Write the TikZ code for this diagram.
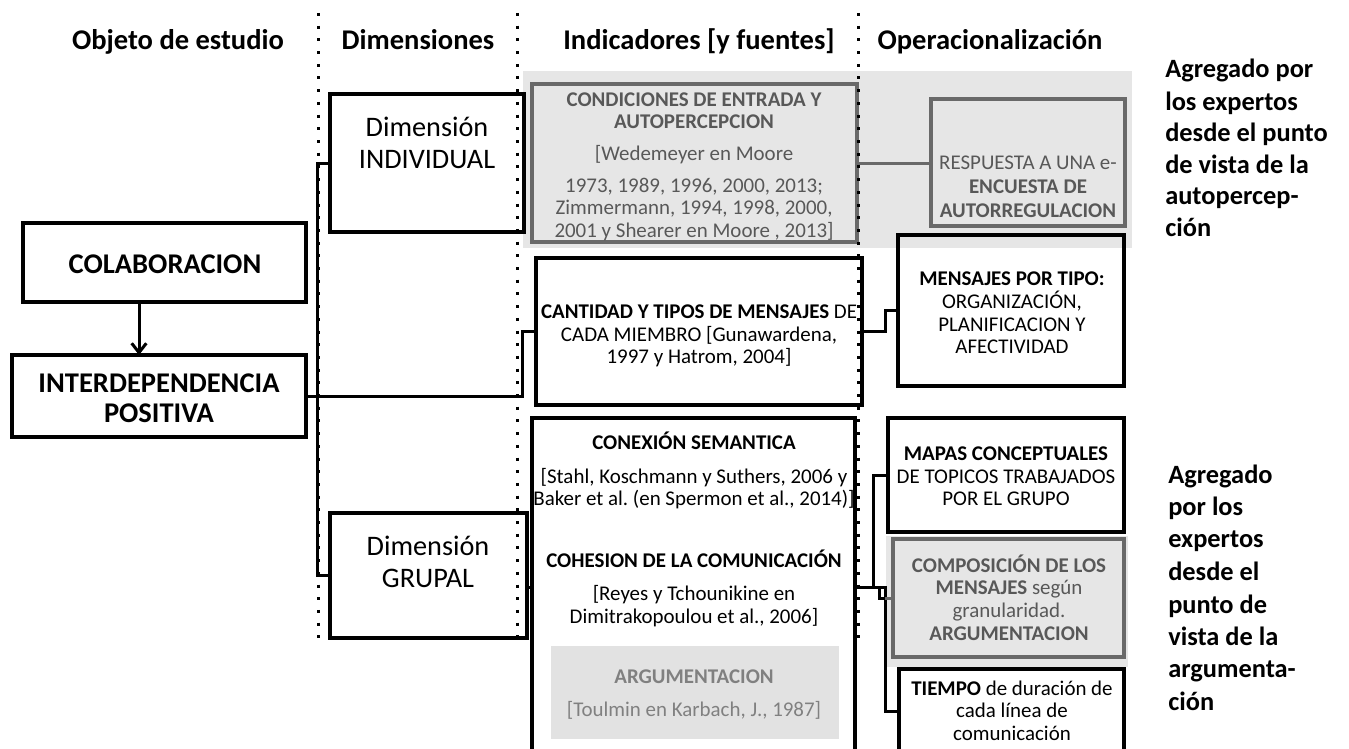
\documentclass[tikz,border=0pt]{standalone}
\usepackage{fontspec}
\setmainfont{Carlito}
\usetikzlibrary{arrows.meta}
\newdimen\pxu \pxu=0.75pt
\definecolor{bggray}{RGB}{230,230,230}
\definecolor{bordgray}{RGB}{105,105,105}
\definecolor{txtgray}{RGB}{88,88,88}
\definecolor{ltxt}{RGB}{128,128,128}
\definecolor{argfill}{RGB}{226,226,226}
\frenchspacing
\tikzset{
  boxst/.style={draw=black, line width=3.4\pxu, inner sep=0pt, outer sep=0pt},
  gboxst/.style={draw=bordgray, line width=3.4\pxu, fill=bggray, inner sep=0pt, outer sep=0pt},
  argst/.style={fill=argfill, inner sep=0pt, outer sep=0pt},
  hdr/.style={font=\fontsize{21.4}{24}\selectfont\bfseries, inner sep=0pt, anchor=base},
  bigt/.style={font=\fontsize{21.4}{24}\selectfont\bfseries, inner sep=0pt, anchor=base},
  dimt/.style={font=\fontsize{21.2}{24}\selectfont, inner sep=0pt, anchor=base},
  sm/.style={font=\fontsize{15.7}{18}\selectfont, inner sep=0pt, anchor=base},
  smb/.style={font=\fontsize{15.7}{18}\selectfont\bfseries, inner sep=0pt, anchor=base},
  agr/.style={font=\fontsize{19.8}{22}\selectfont\bfseries, inner sep=0pt, anchor=base west},
  conn/.style={line width=3\pxu, draw=black},
  dotl/.style={line width=3\pxu, dash pattern=on 3\pxu off 9.7\pxu, draw=black},
}
\newcommand\mkbox[6]{\node[#2, minimum width={(#5-#3)*0.75pt}, minimum height={(#6-#4)*0.75pt}] (#1) at ({(#3+#5)/2},{(#4+#6)/2}) {};}
\newcommand\tline[5]{\node[#4] (#1) at (#2,#3) {#5};}
\begin{document}
\begin{tikzpicture}[x=0.75pt,y=-0.75pt]
\useasboundingbox (0,0) rectangle (1349,749);
\clip (0,0) rectangle (1349,749);
% gray backgrounds
\fill[bggray] (523,71) rectangle (1132,248);
\fill[bggray] (886,536) rectangle (1128,667);
% headers
\tline{h1}{178}{50}{hdr}{Objeto de estudio}
\tline{h2}{418}{50}{hdr}{Dimensiones}
\tline{h3}{699}{50}{hdr}{Indicadores [y fuentes]}
\tline{h4}{990}{50}{hdr}{Operacionalización}
% boxes
\mkbox{colab}{boxst}{23}{223}{306}{302}
\mkbox{inter}{boxst}{12}{355}{306}{437}
\mkbox{dimI}{boxst}{330}{94}{524}{232}
\mkbox{dimG}{boxst}{330}{513}{527}{638}
\mkbox{cond}{gboxst}{532}{84}{857}{242}
\mkbox{resp}{gboxst}{931}{99}{1125}{226}
\mkbox{cant}{boxst}{536}{258}{862}{405}
\mkbox{mens}{boxst}{898}{235}{1124}{386}
\mkbox{big}{boxst}{532}{418}{855}{756}
\mkbox{argbox}{argst}{551}{646}{839}{739}
\mkbox{mapas}{boxst}{888}{418}{1124}{532}
\mkbox{comp}{gboxst}{893}{539}{1124}{657}
\mkbox{tiempo}{boxst}{899}{669}{1124}{753}
% left texts
\tline{tcolab}{165}{273}{bigt}{COLABORACION}
\tline{tint1}{159}{392}{bigt}{INTERDEPENDENCIA}
\tline{tint2}{159}{422}{bigt}{POSITIVA}
\tline{tdi1}{427}{136}{dimt}{Dimensión}
\tline{tdi2}{427}{168}{dimt}{INDIVIDUAL}
\tline{tdg1}{428}{555}{dimt}{Dimensión}
\tline{tdg2}{428}{587}{dimt}{GRUPAL}
% condiciones
\tline{tc1}{694}{107}{smb,text=txtgray}{CONDICIONES DE ENTRADA Y}
\tline{tc2}{694}{128}{smb,text=txtgray}{AUTOPERCEPCION}
\tline{tc3}{694}{160}{sm,text=txtgray}{[Wedemeyer en Moore}
\tline{tc4}{694}{192}{sm,text=txtgray}{1973, 1989, 1996, 2000, 2013;}
\tline{tc5}{694}{214}{sm,text=txtgray}{Zimmermann, 1994, 1998, 2000,}
\tline{tc6}{694}{237}{sm,text=txtgray}{2001 y Shearer en Moore , 2013]}
% respuesta
\tline{tr1}{1028}{169}{sm,text=txtgray}{RESPUESTA A UNA e-}
\tline{tr2}{1028}{193}{smb,text=txtgray}{ENCUESTA DE}
\tline{tr3}{1028}{217}{smb,text=txtgray}{AUTORREGULACION}
% cantidad
\tline{tk1}{699}{318}{sm}{\textbf{CANTIDAD Y TIPOS DE MENSAJES} DE}
\tline{tk2}{699}{341}{sm}{CADA MIEMBRO [Gunawardena,}
\tline{tk3}{699}{363}{sm}{1997 y Hatrom, 2004]}
% mensajes
\tline{tm1}{1012}{285}{smb}{MENSAJES POR TIPO:}
\tline{tm2}{1012}{308}{sm}{ORGANIZACIÓN,}
\tline{tm3}{1012}{331}{sm}{PLANIFICACION Y}
\tline{tm4}{1012}{353}{sm}{AFECTIVIDAD}
% big box
\tline{tb1}{694}{449}{smb}{CONEXIÓN SEMANTICA}
\tline{tb2}{694}{483}{sm}{[Stahl, Koschmann y Suthers, 2006 y}
\tline{tb3}{694}{505}{sm}{Baker et al. (en Spermon et al., 2014)]}
\tline{tb4}{694}{567}{smb}{COHESION DE LA COMUNICACIÓN}
\tline{tb5}{694}{600}{sm}{[Reyes y Tchounikine en}
\tline{tb6}{694}{623}{sm}{Dimitrakopoulou et al., 2006]}
\tline{tb7}{694}{683}{smb,text=ltxt}{ARGUMENTACION}
\tline{tb8}{694}{716}{sm,text=ltxt}{[Toulmin en Karbach, J., 1987]}
% mapas
\tline{tp1}{1006}{460}{smb}{MAPAS CONCEPTUALES}
\tline{tp2}{1006}{483}{sm}{DE TOPICOS TRABAJADOS}
\tline{tp3}{1006}{505}{sm}{POR EL GRUPO}
% composicion
\tline{to1}{1009}{572}{smb,text=txtgray}{COMPOSICIÓN DE LOS}
\tline{to2}{1009}{594}{sm,text=txtgray}{\textbf{MENSAJES} según}
\tline{to3}{1009}{617}{sm,text=txtgray}{granularidad.}
\tline{to4}{1009}{640}{smb,text=txtgray}{ARGUMENTACION}
% tiempo
\tline{tt1}{1012}{695}{sm}{\textbf{TIEMPO} de duración de}
\tline{tt2}{1012}{717}{sm}{cada línea de}
\tline{tt3}{1012}{740}{sm}{comunicación}
% agregado 1
\tline{ta1}{1165}{78}{agr}{Agregado por}
\tline{ta2}{1165}{110}{agr}{los expertos}
\tline{ta3}{1165}{142}{agr}{desde el punto}
\tline{ta4}{1165}{173}{agr}{de vista de la}
\tline{ta5}{1165}{204}{agr}{autopercep-}
\tline{ta6}{1165}{236}{agr}{ción}
% agregado 2
\tline{tg1}{1168}{483}{agr}{Agregado}
\tline{tg2}{1168}{515}{agr}{por los}
\tline{tg3}{1168}{547}{agr}{expertos}
\tline{tg4}{1168}{580}{agr}{desde el}
\tline{tg5}{1168}{613}{agr}{punto de}
\tline{tg6}{1168}{645}{agr}{vista de la}
\tline{tg7}{1168}{677}{agr}{argumenta-}
\tline{tg8}{1168}{710}{agr}{ción}
% connectors
\coordinate (ar) at (139,0);
\draw[conn, -{Straight Barb[length=7pt,width=11pt]}] (colab.south -| ar) -- (inter.north -| ar);
\draw[conn] (dimI.west) -- ++(-13,0) |- (dimG.west);
\draw[conn] (inter.east) -| ([xshift=-14\pxu]cant.west) -- (cant.west);
\draw[conn] (dimG.east |- big.west) -- (big.west);
\draw[conn, draw=bordgray] (cond.east) -- (cond.east -| resp.west);
\draw[conn] (cant.east) -| ([xshift=-13\pxu]mens.west) -- (mens.west);
\coordinate (b1) at ([xshift=18\pxu]big.east);
\coordinate (b2) at ([xshift=30\pxu]big.east);
\coordinate (b4) at ([xshift=24\pxu]big.east);
\coordinate (b3) at ([xshift=30\pxu,yshift=-11\pxu]big.east);
\draw[conn] (big.east) -- (b1) |- (mapas.west);
\draw[conn] (b1) -- (b2) |- (tiempo.west);
\draw[conn] (b4) -- ++(0,11) -- (b3);
\draw[conn, draw=bordgray] (b3) -- (b3 -| comp.west);
% dotted column separators
\draw[dotl] (318,13) -- (318,645);
\draw[dotl] (517,13) -- (517,645);
\draw[dotl] (858,13) -- (858,645);
\end{tikzpicture}
\end{document}
